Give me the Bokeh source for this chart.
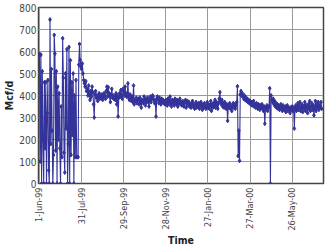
from bokeh.plotting import figure
from bokeh.models import FixedTicker, ColumnDataSource, Range1d
from bokeh.embed import file_html
from bokeh.resources import INLINE

# Daily gas rate (Mcf/d), day 0 = 1-Jun-99
rate_startup = [590, 100, 585, 0, 510, 200, 0, 460, 160, 460,
                0, 320, 470, 60, 0, 745, 180, 520, 240, 0,
                130, 675, 590, 150, 510, 0, 440, 200, 410, 160,
                0, 350, 120, 660, 480, 140, 50, 500, 250, 610,
                0, 180, 620, 0, 560, 130, 460, 220, 500, 0,
                400, 120, 470, 120, 120, 120]
rate_aug_sep99 = [540, 634, 560, 530, 520, 545, 500, 470, 455, 440,
                  465, 420, 430, 400, 445, 410, 380, 420, 395, 440,
                  415, 360, 300, 405, 420, 390, 400, 375, 395, 410,
                  385, 400, 390, 405, 380, 395, 410, 400, 385, 420,
                  440, 395, 437, 410, 395, 370, 405, 430, 390, 400,
                  385, 395, 380, 410, 360, 400, 305, 390, 410, 395,
                  425, 400, 385, 430]
rate_oct_nov99 = [420, 400, 440, 410, 395, 400, 455, 390, 380, 405,
                  385, 375, 395, 370, 445, 360, 380, 375, 390, 365,
                  380, 385, 360, 390, 370, 345, 380, 375, 365, 395,
                  380, 355, 385, 370, 390, 375, 350, 380, 395, 370,
                  385, 400, 395, 380, 365, 375, 305, 385, 395, 380,
                  365, 390, 375, 360, 385, 370, 380, 365, 375, 360]
rate_dec99_feb00 = [380, 370, 355, 385, 375, 360, 395, 370, 350, 380,
                    365, 375, 355, 385, 370, 360, 380, 350, 375, 365,
                    385, 360, 370, 355, 375, 365, 350, 370, 380, 345,
                    365, 375, 355, 370, 350, 360, 345, 365, 375, 350,
                    360, 340, 355, 370, 345, 360, 350, 365, 340, 355,
                    370, 350, 335, 360, 345, 365, 350, 340, 355, 370,
                    345, 360, 340, 355, 375, 330, 360, 345, 365, 350,
                    380, 345, 370, 355, 340, 365, 385, 415, 375, 360]
rate_feb_apr00 = [380, 350, 365, 345, 370, 355, 340, 360, 285, 355,
                  345, 365, 340, 355, 330, 350, 365, 345, 360, 340,
                  355, 370, 442, 125, 240, 103, 405, 420, 400, 410,
                  395, 385, 400, 380, 390, 375, 385, 370, 380, 365,
                  375, 360, 370, 355, 365, 375, 350, 360, 345, 365,
                  355, 340, 360, 350, 335, 355, 345, 360, 340, 330,
                  350, 272, 345, 340, 355, 330, 345, 350, 433, 0]
rate_may_jul00 = [400, 380, 370, 385, 360, 375, 350, 365, 345, 360,
                  340, 355, 335, 350, 360, 340, 330, 355, 345, 335,
                  350, 325, 345, 355, 330, 345, 340, 320, 345, 335,
                  350, 330, 345, 250, 340, 355, 330, 345, 365, 335,
                  350, 370, 330, 345, 360, 325, 350, 340, 370, 330,
                  355, 345, 320, 360, 340, 375, 330, 350, 365, 335,
                  355, 310, 345, 375, 330, 360, 345, 370, 335, 355,
                  345, 370, 340]

tick_days = [0, 60, 120, 180, 240, 300, 360]
tick_labels = ["1-Jun-99", "31-Jul-99", "29-Sep-99", "28-Nov-99",
               "27-Jan-00", "27-Mar-00", "26-May-00"]

rate = (rate_startup + rate_aug_sep99 + rate_oct_nov99 + rate_dec99_feb00
        + rate_feb_apr00 + rate_may_jul00)
days = list(range(len(rate)))
src = ColumnDataSource(dict(day=days, rate=rate))

FONT = "'DejaVu Sans Condensed', 'Liberation Sans', sans-serif"

p = figure(width=325, height=248, output_backend="svg", toolbar_location=None,
           x_range=Range1d(-1.4, 404.6), y_range=Range1d(0, 800),
           min_border_left=30, min_border_right=2, min_border_top=7,
           min_border_bottom=10)

line_color = "#33339a"
p.line("day", "rate", source=src, line_color=line_color, line_width=1.1)
p.scatter("day", "rate", source=src, marker="diamond", size=4,
          fill_color=line_color, line_color=line_color)

p.xaxis.ticker = FixedTicker(ticks=tick_days)
p.xaxis.major_label_overrides = {d: l for d, l in zip(tick_days, tick_labels)}
p.xaxis.major_label_orientation = 1.5708
p.yaxis.ticker = FixedTicker(ticks=list(range(0, 801, 100)))

for ax in (p.xaxis[0], p.yaxis[0]):
    ax.major_tick_out = 0
    ax.major_tick_in = 0
    ax.minor_tick_out = 0
    ax.minor_tick_in = 0
    ax.axis_line_color = None
    ax.major_label_text_font = FONT
    ax.major_label_text_color = "#444444"
    ax.major_label_standoff = 2
    ax.axis_label_text_font = FONT
    ax.axis_label_text_font_style = "bold"
    ax.axis_label_text_font_size = "10.5px"
    ax.axis_label_text_color = "#222222"
    ax.axis_label_standoff = 1

p.yaxis.major_label_text_font_size = "10px"
p.xaxis.major_label_text_font_size = "9px"
p.xaxis.major_label_standoff = 4
p.xaxis.axis_label_standoff = 0

p.xaxis.axis_label = "Time"
p.yaxis.axis_label = "Mcf/d"

p.xgrid.grid_line_color = "#9a9a9a"
p.ygrid.grid_line_color = "#9a9a9a"
p.xgrid.grid_line_width = 1
p.ygrid.grid_line_width = 1
p.outline_line_color = "#444444"
p.outline_line_width = 1.5
p.background_fill_color = "white"
p.border_fill_color = "white"

open("out.html", "w").write(file_html(p, INLINE))
